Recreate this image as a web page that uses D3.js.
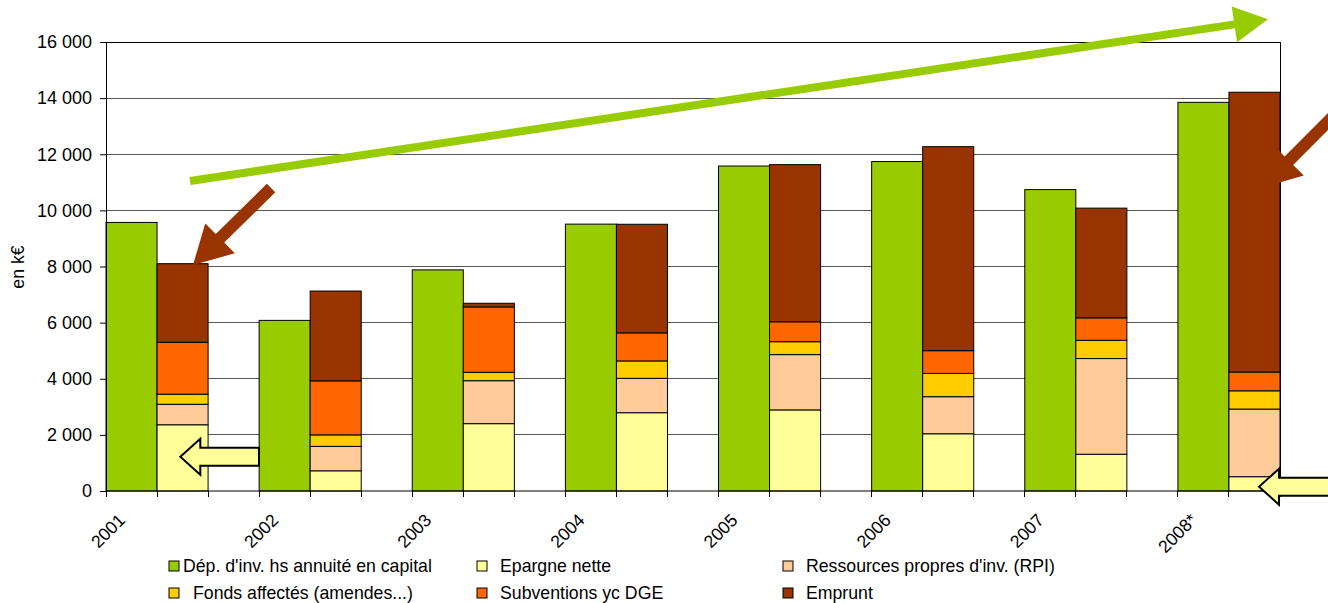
<!DOCTYPE html>
<html>
<head>
<meta charset="utf-8">
<script src="https://cdn.jsdelivr.net/npm/d3@7"></script>
<style>
  body { margin: 0; background: #fff; }
  svg { display: block; font-family: "Liberation Sans", Arial, sans-serif; }
</style>
</head>
<body>
<div id="chart"></div>
<script>
// Values, in k€
let years = ['2001', '2002', '2003', '2004', '2005', '2006', '2007', '2008*'];
let depInv = [9570, 6080, 7880, 9510, 11580, 11740, 10740, 13850];
let epargne = [2360, 720, 2400, 2790, 2890, 2040, 1310, 510];
let rpi = [730, 870, 1530, 1225, 1970, 1320, 3410, 2410];
let fonds = [360, 410, 300, 620, 460, 830, 650, 650];
let subventions = [1850, 1925, 2330, 1000, 710, 810, 800, 670];
let emprunt = [2800, 3200, 130, 3870, 5600, 7270, 3910, 9970];
let yTicks = [0, 2000, 4000, 6000, 8000, 10000, 12000, 14000, 16000];

let legendNames = ["Dép. d'inv. hs annuité en capital", 'Epargne nette',
  "Ressources propres d'inv. (RPI)", 'Fonds affectés (amendes...)',
  'Subventions yc DGE', 'Emprunt'];

let width = 1328, height = 603;
let plotLeft = 106, plotRight = 1280, plotTop = 42, plotBottom = 491;
let fontSize = 17.7;

let colours = {
  dep: '#99cc00', epargne: '#ffff99', rpi: '#ffcc99',
  fonds: '#ffcc00', subventions: '#ff6600', emprunt: '#993300'
};

let svg = d3.select('#chart').append('svg')
  .attr('width', width)
  .attr('height', height);

// 3 slots per year (investment bar, funding stack, gap), last gap dropped
let slotCount = years.length * 3 - 1;
let slots = d3.range(slotCount);
let x = d3.scaleBand().domain(slots).range([plotLeft, plotRight]).padding(0);
let slotX = d3.scaleLinear().domain([0, slotCount]).range([plotLeft, plotRight]);
let y = d3.scaleLinear().domain([0, 16000]).range([plotBottom, plotTop]);

let fmt = d3.formatLocale({decimal: ',', thousands: ' ', grouping: [3], currency: ['', '€']}).format(',d');

// gridlines
svg.append('g')
  .selectAll('line')
  .data(yTicks.filter(d => d > 0))
  .join('line')
  .attr('x1', plotLeft).attr('x2', plotRight)
  .attr('y1', d => y(d)).attr('y2', d => y(d))
  .attr('stroke', '#555')
  .attr('stroke-width', 1)
  .attr('shape-rendering', 'crispEdges');

// plot box top/right
svg.append('path')
  .attr('d', `M${plotLeft},${y(16000)}H${plotRight}V${plotBottom}`)
  .attr('fill', 'none')
  .attr('stroke', '#000')
  .attr('shape-rendering', 'crispEdges');

// green bars
svg.append('g')
  .selectAll('rect')
  .data(depInv)
  .join('rect')
  .attr('x', (d, i) => x(i * 3))
  .attr('width', x.bandwidth())
  .attr('y', d => y(d))
  .attr('height', d => y(0) - y(d))
  .attr('fill', colours.dep)
  .attr('stroke', '#000')
  .attr('stroke-width', 1);

// funding stacks
let keys = ['epargne', 'rpi', 'fonds', 'subventions', 'emprunt'];
let series = {epargne: epargne, rpi: rpi, fonds: fonds, subventions: subventions, emprunt: emprunt};
let rows = years.map((yr, i) => {
  let r = {year: yr, i: i};
  keys.forEach(k => { r[k] = series[k][i]; });
  return r;
});
let stacked = d3.stack().keys(keys)(rows);

svg.append('g')
  .selectAll('g')
  .data(stacked)
  .join('g')
  .attr('fill', d => colours[d.key])
  .selectAll('rect')
  .data(d => d)
  .join('rect')
  .attr('x', d => x(d.data.i * 3 + 1))
  .attr('width', x.bandwidth())
  .attr('y', d => y(d[1]))
  .attr('height', d => y(d[0]) - y(d[1]))
  .attr('stroke', '#000')
  .attr('stroke-width', 1);

// y axis
let yAxis = svg.append('g')
  .attr('transform', `translate(${plotLeft},0)`)
  .call(d3.axisLeft(y).tickValues(yTicks).tickFormat(fmt).tickSize(6).tickPadding(8));
yAxis.select('.domain').attr('stroke', '#000');
yAxis.selectAll('text').attr('font-size', 18).attr('fill', '#000').attr('font-family', null);

svg.append('text')
  .attr('transform', 'translate(24,267) rotate(-90)')
  .attr('text-anchor', 'middle')
  .attr('font-size', fontSize)
  .text('en k€');

// x axis: a tick at every slot boundary
svg.append('line')
  .attr('x1', plotLeft).attr('x2', plotRight)
  .attr('y1', plotBottom).attr('y2', plotBottom)
  .attr('stroke', '#000');
svg.append('g')
  .selectAll('line')
  .data(d3.range(slotCount + 1))
  .join('line')
  .attr('x1', d => slotX(d)).attr('x2', d => slotX(d))
  .attr('y1', plotBottom).attr('y2', plotBottom + 6)
  .attr('stroke', '#000')
  .attr('shape-rendering', 'crispEdges');

svg.append('g')
  .selectAll('text')
  .data(years)
  .join('text')
  .attr('transform', (d, i) => `translate(${slotX(i * 3) + 16},${plotBottom + 26}) rotate(-45)`)
  .attr('text-anchor', 'end')
  .attr('dominant-baseline', 'central')
  .attr('font-size', fontSize)
  .text(d => d);

// legend
let legendKeys = ['dep', 'epargne', 'rpi', 'fonds', 'subventions', 'emprunt'];
let legendCols = [169, 477, 783];
let legendRows = [566, 593];
let legend = svg.append('g')
  .selectAll('g')
  .data(legendKeys)
  .join('g')
  .attr('transform', (d, i) => `translate(${legendCols[i % 3]},${legendRows[Math.floor(i / 3)]})`);
legend.append('rect')
  .attr('x', 0).attr('y', -5)
  .attr('width', 10).attr('height', 10)
  .attr('fill', d => colours[d])
  .attr('stroke', '#000');
legend.append('text')
  .attr('x', (d, i) => i === 3 ? 24 : (i === 0 ? 14 : 23))
  .attr('dominant-baseline', 'central')
  .attr('font-size', fontSize)
  .text((d, i) => legendNames[i]);

// annotation arrows, given as [slot, value] pairs
function pt(p) { return [slotX(p[0]), y(p[1])]; }

function arrowPoints(tail, tip, shaft, headHalf, headLen) {
  let dx = tail[0] - tip[0], dy = tail[1] - tip[1];
  let len = Math.hypot(dx, dy);
  let ux = dx / len, uy = dy / len;   // tip -> tail
  let px = -uy, py = ux;              // perpendicular
  let bx = tip[0] + ux * headLen, by = tip[1] + uy * headLen;
  return [
    tip,
    [bx + px * headHalf, by + py * headHalf],
    [bx + px * shaft, by + py * shaft],
    [tail[0] + px * shaft, tail[1] + py * shaft],
    [tail[0] - px * shaft, tail[1] - py * shaft],
    [bx - px * shaft, by - py * shaft],
    [bx - px * headHalf, by - py * headHalf]
  ];
}

let trendArrow = {tail: [1.646, 11047], tip: [22.765, 16809]};
let loanArrows = [
  {tail: [3.233, 10797], tip: [1.704, 8053]},
  {tail: [24.176, 13595], tip: [22.648, 10812]}
];
let savingArrows = [
  {tail: [2.997, 1222], tip: [1.456, 1222]},
  {tail: [24.2, 153], tip: [22.589, 153]}
];

svg.append('polygon')
  .attr('points', arrowPoints(pt(trendArrow.tail), pt(trendArrow.tip), 4, 18, 34).join(' '))
  .attr('fill', colours.dep);

svg.append('g')
  .selectAll('polygon')
  .data(loanArrows)
  .join('polygon')
  .attr('points', d => arrowPoints(pt(d.tail), pt(d.tip), 6, 21, 38).join(' '))
  .attr('fill', colours.emprunt);

svg.append('g')
  .selectAll('polygon')
  .data(savingArrows)
  .join('polygon')
  .attr('points', d => arrowPoints(pt(d.tail), pt(d.tip), 9, 18, 20).join(' '))
  .attr('fill', colours.epargne)
  .attr('stroke', '#000')
  .attr('stroke-width', 2)
  .attr('stroke-linejoin', 'miter');
</script>
</body>
</html>
